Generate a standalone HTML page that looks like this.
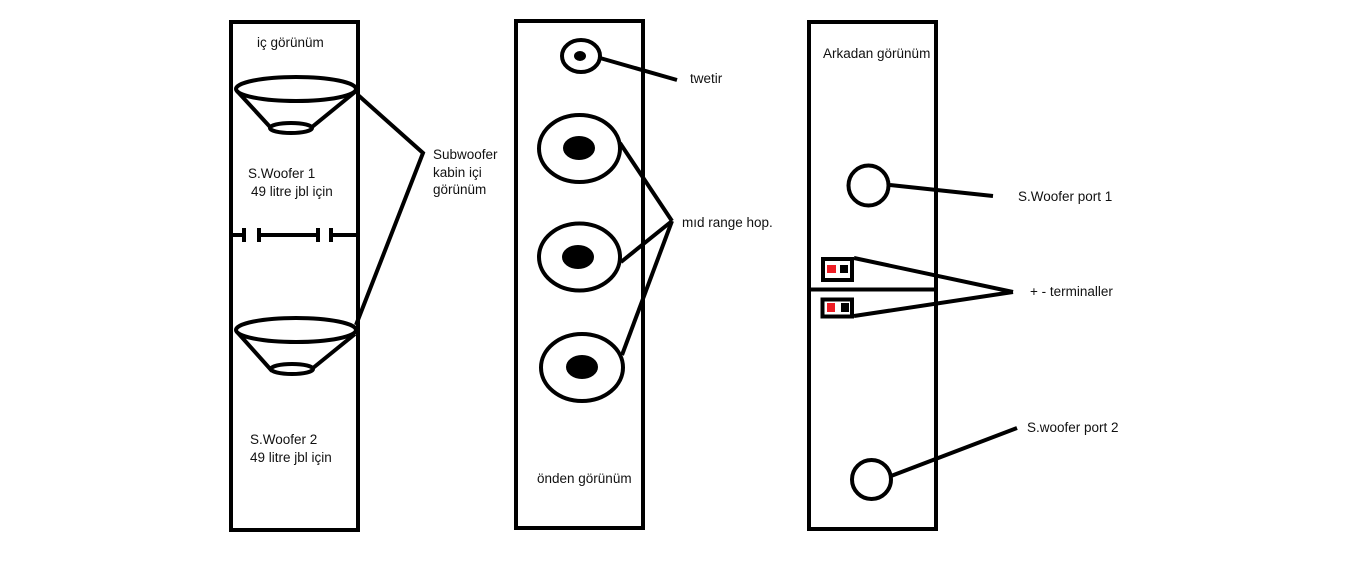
<!DOCTYPE html>
<html>
<head>
<meta charset="utf-8">
<style>
  html, body { margin: 0; padding: 0; background: #fff; }
  body { width: 1360px; height: 578px; overflow: hidden; }
  svg { display: block; }
  text { font-family: "Liberation Sans", "DejaVu Sans", sans-serif; font-size: 13.5px; fill: #111; }
</style>
</head>
<body>
<svg width="1360" height="578" viewBox="0 0 1360 578" xmlns="http://www.w3.org/2000/svg">
  <rect x="0" y="0" width="1360" height="578" fill="#fff"/>
  <g fill="none" stroke="#000" stroke-width="4" stroke-linecap="butt" stroke-linejoin="miter">
    <!-- LEFT BOX -->
    <rect x="231" y="22" width="127" height="508"/>
    <!-- top cone -->
    <ellipse cx="296" cy="89" rx="60" ry="12"/>
    <ellipse cx="291" cy="128" rx="21" ry="5"/>
    <line x1="237" y1="91" x2="271" y2="128"/>
    <line x1="355" y1="92" x2="312" y2="127"/>
    <!-- divider with gaps -->
    <line x1="231" y1="235" x2="245" y2="235"/>
    <line x1="244" y1="228" x2="244" y2="242"/>
    <line x1="259" y1="228" x2="259" y2="242"/>
    <line x1="259" y1="235" x2="320" y2="235"/>
    <line x1="318" y1="228" x2="318" y2="242"/>
    <line x1="331" y1="228" x2="331" y2="242"/>
    <line x1="331" y1="235" x2="358" y2="235"/>
    <!-- bottom cone -->
    <ellipse cx="296" cy="330" rx="60" ry="12"/>
    <ellipse cx="292" cy="369" rx="21" ry="5"/>
    <line x1="238" y1="333" x2="272" y2="371"/>
    <line x1="355" y1="334" x2="313" y2="368"/>
    <!-- connector -->
    <polyline points="358,95 423,153 356,325"/>

    <!-- MIDDLE BOX -->
    <rect x="516" y="21" width="127" height="507"/>
    <ellipse cx="581" cy="56" rx="19" ry="16"/>
    <line x1="600" y1="58" x2="677" y2="80"/>
    <ellipse cx="579.5" cy="148.5" rx="40.5" ry="33.5"/>
    <ellipse cx="579.5" cy="257" rx="40.5" ry="33.5"/>
    <ellipse cx="582" cy="367.5" rx="41" ry="33.5"/>
    <line x1="620" y1="143" x2="672" y2="221"/>
    <line x1="621" y1="262" x2="672" y2="221"/>
    <line x1="622" y1="355" x2="672" y2="221"/>

    <!-- RIGHT BOX -->
    <rect x="809" y="22" width="127" height="507"/>
    <line x1="809" y1="289.5" x2="936" y2="289.5"/>
    <circle cx="868.5" cy="185.5" r="20"/>
    <line x1="890" y1="185" x2="993" y2="196"/>
    <rect x="823" y="259" width="29" height="21"/>
    <rect x="822.5" y="299.5" width="29.5" height="17"/>
    <line x1="854" y1="258" x2="1013" y2="292"/>
    <line x1="854" y1="316" x2="1013" y2="292"/>
    <circle cx="871.5" cy="479.5" r="19.5"/>
    <line x1="891" y1="476" x2="1017" y2="428"/>
  </g>

  <!-- filled parts -->
  <g fill="#000" stroke="none">
    <ellipse cx="580" cy="56" rx="6" ry="5"/>
    <ellipse cx="579" cy="148" rx="16" ry="12"/>
    <ellipse cx="578" cy="257" rx="16" ry="12"/>
    <ellipse cx="582" cy="367" rx="16" ry="12"/>
    <rect x="840" y="265" width="8" height="8"/>
    <rect x="841" y="303" width="8" height="9"/>
  </g>
  <g fill="#ed1c24" stroke="none">
    <rect x="827" y="265" width="9" height="8"/>
    <rect x="827" y="303" width="8" height="9"/>
  </g>

  <!-- labels -->
  <text x="257" y="47">iç görünüm</text>
  <text x="248" y="178">S.Woofer 1</text>
  <text x="251" y="196">49 litre jbl için</text>
  <text x="250" y="444">S.Woofer 2</text>
  <text x="250" y="462">49 litre jbl için</text>
  <text x="433" y="159">Subwoofer</text>
  <text x="433" y="177">kabin içi</text>
  <text x="433" y="194">görünüm</text>

  <text x="690" y="83">twetir</text>
  <text x="682" y="227">mıd range hop.</text>
  <text x="537" y="483">önden görünüm</text>

  <text x="823" y="58">Arkadan görünüm</text>
  <text x="1018" y="201">S.Woofer port 1</text>
  <text x="1030" y="296">+ - terminaller</text>
  <text x="1027" y="432">S.woofer port 2</text>
</svg>
</body>
</html>
